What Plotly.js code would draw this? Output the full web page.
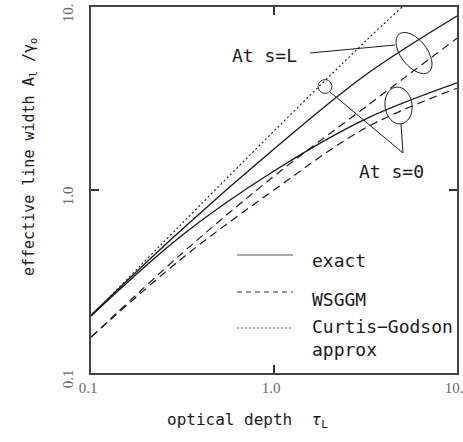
<!DOCTYPE html>
<html>
<head>
<meta charset="utf-8">
<script src="https://cdn.plot.ly/plotly-3.0.1.min.js"></script>
<style>html,body{margin:0;padding:0;background:#fff;}#plot{width:463px;height:442px;}</style>
</head>
<body>
<div id="plot"></div>
<script>
// ---- data ----
const tau = [0.1, 0.316, 1.0, 3.16, 10];
const exactL = [0.207, 0.612, 1.675, 4.25, 8.93];
const wsggmL = [0.157, 0.453, 1.19, 2.84, 6.75];
const exact0 = [0.205, 0.568, 1.27, 2.44, 3.85];
const wsggm0 = [0.157, 0.425, 1.0, 2.18, 3.6];
const tauCG = [0.1, 0.316, 1.0, 3.16, 5.07];
const curtisGodson = [0.205, 0.66, 2.1, 6.5, 10.1];

const tickVals = [0.1, 1, 10];
const tickText = ['0.1', '1.0', '10.'];
const legendNames = ['exact', 'WSGGM', 'Curtis\u2212Godson<br>approx'];
const labelL = 'At s=L';
const label0 = 'At s=0';
const xTitle = 'optical depth  <i>\u03c4</i><sub>L</sub>';
const yTitle = 'effective line width A<sub>l</sub> /\u03b3<sub>o</sub>';

// ---- geometry helpers (plot area in pixels) ----
const L = 91, R = 457, T = 7, B = 373;
const W = R - L, H = B - T;
const px = x => (x - L) / W;
const py = y => (B - y) / H;

function ellipsePath(cx, cy, a, b, angDeg) {
  const th = angDeg * Math.PI / 180;
  let s = '';
  for (let i = 0; i <= 48; i++) {
    const t = i / 48 * 2 * Math.PI;
    const ex = a * Math.cos(t), ey = b * Math.sin(t);
    const X = cx + ex * Math.cos(th) - ey * Math.sin(th);
    const Y = cy + ex * Math.sin(th) + ey * Math.cos(th);
    s += (i === 0 ? 'M' : 'L') + px(X).toFixed(4) + ',' + py(Y).toFixed(4);
  }
  return s + 'Z';
}

const ink = '#1a1a1a';
const lineStyle = {
  exact: {color: ink, width: 1.4, dash: 'solid'},
  wsggm: {color: ink, width: 1.2, dash: '8px,5px'},
  cg: {color: ink, width: 1.1, dash: '2px,2.5px'}
};

const traces = [
  {x: tauCG, y: curtisGodson, name: 'Curtis-Godson approx', mode: 'lines', line: Object.assign({shape: 'spline'}, lineStyle.cg)},
  {x: tau, y: exactL, name: 'exact, s=L', mode: 'lines', line: Object.assign({shape: 'spline'}, lineStyle.exact)},
  {x: tau, y: wsggmL, name: 'WSGGM, s=L', mode: 'lines', line: Object.assign({shape: 'spline'}, lineStyle.wsggm)},
  {x: tau, y: exact0, name: 'exact, s=0', mode: 'lines', line: Object.assign({shape: 'spline'}, lineStyle.exact)},
  {x: tau, y: wsggm0, name: 'WSGGM, s=0', mode: 'lines', line: Object.assign({shape: 'spline'}, lineStyle.wsggm)}
];

const mono = 'DejaVu Sans Mono, monospace';
const serif = 'Liberation Serif, DejaVu Serif, serif';

const shapes = [
  // legend samples
  {type: 'line', xref: 'paper', yref: 'paper', x0: px(237), x1: px(293), y0: py(255), y1: py(255), line: {color: '#555', width: 1.2, dash: 'solid'}},
  {type: 'line', xref: 'paper', yref: 'paper', x0: px(237), x1: px(293), y0: py(292), y1: py(292), line: {color: '#333', width: 1.2, dash: '5px,4px'}},
  {type: 'line', xref: 'paper', yref: 'paper', x0: px(237), x1: px(293), y0: py(328), y1: py(328), line: {color: '#555', width: 1.1, dash: '2px,2px'}},
  // At s=L leader + ellipse
  {type: 'line', xref: 'paper', yref: 'paper', x0: px(310), x1: px(395), y0: py(53), y1: py(45), line: {color: ink, width: 1}},
  {type: 'path', xref: 'paper', yref: 'paper', path: ellipsePath(414, 53, 24, 13, 52), line: {color: ink, width: 1}},
  // At s=0 ellipse, small circle, leaders
  {type: 'path', xref: 'paper', yref: 'paper', path: ellipsePath(398.5, 105.5, 18.5, 13.5, 82), line: {color: ink, width: 1}},
  {type: 'path', xref: 'paper', yref: 'paper', path: ellipsePath(325, 86.5, 6.8, 6.8, 0), line: {color: ink, width: 1}},
  {type: 'line', xref: 'paper', yref: 'paper', x0: px(330), x1: px(403), y0: py(92), y1: py(153), line: {color: ink, width: 1}},
  {type: 'line', xref: 'paper', yref: 'paper', x0: px(401), x1: px(403), y0: py(124), y1: py(153), line: {color: ink, width: 1}}
];

const annFont = {family: mono, size: 18, color: ink};
const annotations = [
  {xref: 'paper', yref: 'paper', x: px(230), y: py(55), xanchor: 'left', yanchor: 'middle', text: labelL, showarrow: false, font: annFont},
  {xref: 'paper', yref: 'paper', x: px(357), y: py(172), xanchor: 'left', yanchor: 'middle', text: label0, showarrow: false, font: annFont},
  {xref: 'paper', yref: 'paper', x: px(310), y: py(260), xanchor: 'left', yanchor: 'middle', text: legendNames[0], showarrow: false, font: annFont},
  {xref: 'paper', yref: 'paper', x: px(310), y: py(299), xanchor: 'left', yanchor: 'middle', text: legendNames[1], showarrow: false, font: annFont},
  {xref: 'paper', yref: 'paper', x: px(310), y: py(338), xanchor: 'left', yanchor: 'middle', align: 'left', text: legendNames[2], showarrow: false, font: annFont},
  // axis titles (placed to match the reference offsets)
  {xref: 'paper', yref: 'paper', x: px(247), y: py(420), xanchor: 'center', yanchor: 'middle', text: xTitle, showarrow: false, font: {family: mono, size: 16, color: ink}},
  {xref: 'paper', yref: 'paper', x: px(29), y: py(157), xanchor: 'center', yanchor: 'middle', textangle: -90, text: yTitle, showarrow: false, font: {family: mono, size: 15, color: ink}}
];

const axisCommon = {
  type: 'log', range: [-1, 1], tickmode: 'array', tickvals: tickVals, ticktext: tickText,
  ticks: 'inside', ticklen: 8, tickwidth: 1.2, tickcolor: '#333',
  showline: true, linecolor: '#444', linewidth: 1.6, mirror: 'ticks',
  showgrid: false, zeroline: false, ticklabeloverflow: 'allow',
  tickfont: {family: serif, size: 15, color: '#666'}
};

const layout = {
  width: 463, height: 442,
  margin: {l: L, r: 463 - R, t: T, b: 442 - B},
  paper_bgcolor: '#fff', plot_bgcolor: '#fff',
  showlegend: false,
  xaxis: Object.assign({}, axisCommon, {automargin: false, ticklabelshift: -3}),
  yaxis: Object.assign({}, axisCommon, {automargin: false, tickangle: -90, ticklabelstandoff: 10, ticklabelshift: 8}),
  shapes: shapes,
  annotations: annotations
};

Plotly.newPlot('plot', traces, layout, {staticPlot: true, displayModeBar: false});
</script>
</body>
</html>
